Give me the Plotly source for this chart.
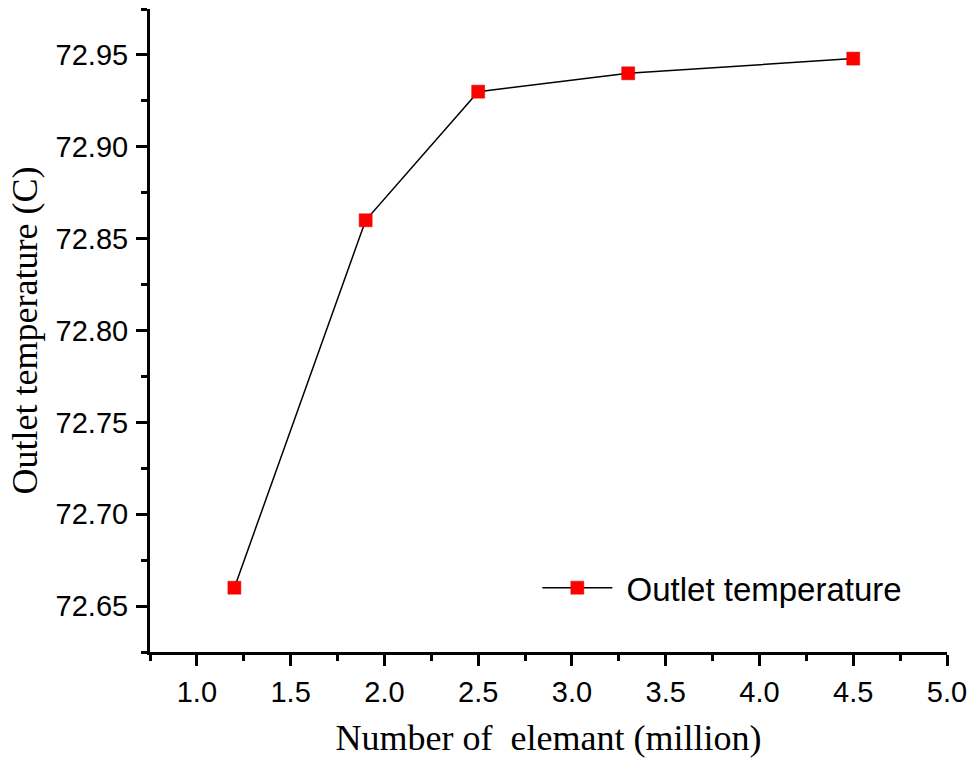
import plotly.graph_objects as go

# Mesh-independence study: outlet temperature vs. mesh size
elements_million = [1.2, 1.9, 2.5, 3.3, 4.5]
outlet_temp = [72.66, 72.86, 72.93, 72.94, 72.948]

x_ticks = [1.0, 1.5, 2.0, 2.5, 3.0, 3.5, 4.0, 4.5, 5.0]
y_ticks = [72.65, 72.70, 72.75, 72.80, 72.85, 72.90, 72.95]

fig = go.Figure()
fig.add_trace(go.Scatter(
    x=elements_million, y=outlet_temp,
    mode="lines+markers",
    name="\u00a0Outlet temperature",
    line=dict(color="black", width=1.5),
    marker=dict(symbol="square", size=13, color="#ff0000",
                line=dict(color="#e00000", width=0.5)),
))

axis_common = dict(
    showline=True, linecolor="black", linewidth=3,
    ticks="outside", ticklen=11, tickwidth=2.5, tickcolor="black",
    showgrid=False, zeroline=False, mirror=False,
    tickfont=dict(family="Liberation Sans, Arial", size=29, color="black"),
    minor=dict(ticks="outside", ticklen=6, tickwidth=2.5, tickcolor="black", showgrid=False),
)

title_font = dict(family="Liberation Serif, Times New Roman", size=36, color="black")

fig.update_layout(
    width=976, height=762,
    margin=dict(l=150, r=26, t=9, b=110),
    paper_bgcolor="white", plot_bgcolor="white",
    showlegend=True,
    legend=dict(x=0.486, y=0.10, xanchor="left", yanchor="middle",
                bgcolor="rgba(0,0,0,0)", itemwidth=70,
                font=dict(family="Liberation Sans, Arial", size=33, color="black")),
    xaxis=dict(
        range=[0.75, 5.0], tickvals=x_ticks,
        ticktext=[f"{v:.1f}" for v in x_ticks],
        title=dict(text="Number of\u00a0 elemant (million)", font=title_font, standoff=19),
        ticklabelstandoff=1,
        **axis_common,
    ),
    yaxis=dict(
        range=[72.625, 72.975], tickvals=y_ticks,
        ticktext=[f"{v:.2f}" for v in y_ticks],
        title=dict(text="Outlet temperature (C)", font=title_font, standoff=8),
        ticklabelstandoff=2,
        **axis_common,
    ),
)
fig.update_xaxes(minor=dict(dtick=0.25, tick0=0.75))
fig.update_yaxes(minor=dict(dtick=0.025, tick0=72.625))

fig.write_html("out.html")
